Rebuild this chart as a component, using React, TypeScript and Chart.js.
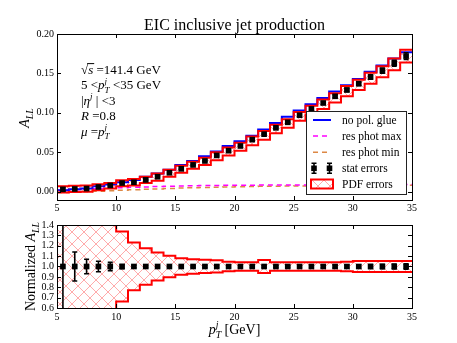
import React, { useEffect, useRef } from "react";
import { Chart, registerables } from "chart.js";
Chart.register(...registerables);

const SERIF = '"Liberation Serif", "DejaVu Serif", "Times New Roman", serif';

// ---------- data ----------
const binEdges = [5, 6, 7, 8, 9, 10, 11, 12, 13, 14, 15, 16, 17, 18, 19, 20, 21, 22, 23, 24, 25, 26, 27, 28, 29, 30, 31, 32, 33, 34, 35];
const binCenters = [5.5, 6.5, 7.5, 8.5, 9.5, 10.5, 11.5, 12.5, 13.5, 14.5, 15.5, 16.5, 17.5, 18.5, 19.5, 20.5, 21.5, 22.5, 23.5, 24.5, 25.5, 26.5, 27.5, 28.5, 29.5, 30.5, 31.5, 32.5, 33.5, 34.5];
const xTicks = [5, 10, 15, 20, 25, 30, 35];
const topYTicks = [0, 0.05, 0.1, 0.15, 0.2];
const bottomYTicks = [0.6, 0.7, 0.8, 0.9, 1.0, 1.1, 1.2, 1.3, 1.4];

const asymmetry = [0.003, 0.0035, 0.004, 0.006, 0.008, 0.011, 0.012, 0.015, 0.019, 0.024, 0.029, 0.034, 0.039, 0.046, 0.052, 0.058, 0.066, 0.073, 0.081, 0.088, 0.097, 0.105, 0.1125, 0.121, 0.129, 0.137, 0.1455, 0.1535, 0.163, 0.172];
const statErr = [0.002, 0.0006, 0.0004, 0.0004, 0.0004, 0.0003, 0.0003, 0.0003, 0.0003, 0.0003, 0.0003, 0.0004, 0.0004, 0.0005, 0.0005, 0.0006, 0.0007, 0.0008, 0.0009, 0.001, 0.0012, 0.0014, 0.0016, 0.0018, 0.002, 0.0023, 0.0028, 0.0032, 0.0037, 0.0043];
const noPolGlue = [0.002, 0.003, 0.004, 0.007, 0.009, 0.012, 0.015, 0.019, 0.023, 0.028, 0.034, 0.039, 0.045, 0.051, 0.058, 0.064, 0.071, 0.079, 0.087, 0.095, 0.103, 0.111, 0.119, 0.127, 0.135, 0.143, 0.152, 0.16, 0.169, 0.177];
const resPhotMax = [0.002, 0.0025, 0.003, 0.0037, 0.0044, 0.005, 0.0056, 0.006, 0.0065, 0.007, 0.0073, 0.0076, 0.0078, 0.008, 0.0081, 0.0082, 0.0083, 0.0084, 0.0085, 0.0085, 0.0086, 0.0086, 0.0087, 0.0087, 0.0088, 0.0088, 0.0088, 0.0089, 0.0089, 0.009];
const resPhotMin = [-0.001, -0.0005, 0.0, 0.0006, 0.0012, 0.0018, 0.0024, 0.003, 0.0036, 0.0041, 0.0046, 0.005, 0.0054, 0.0058, 0.0061, 0.0064, 0.0066, 0.0068, 0.007, 0.0072, 0.0073, 0.0074, 0.0075, 0.0076, 0.0077, 0.0078, 0.0079, 0.008, 0.008, 0.0081];
const pdfUpper = [0.007, 0.0075, 0.008, 0.0095, 0.011, 0.0145, 0.016, 0.019, 0.023, 0.028, 0.033, 0.038, 0.043, 0.05, 0.056, 0.062, 0.07, 0.077, 0.085, 0.092, 0.101, 0.109, 0.117, 0.125, 0.134, 0.142, 0.151, 0.159, 0.169, 0.18];
const pdfLower = [-0.001, -0.0005, 0.0, 0.002, 0.004, 0.007, 0.008, 0.011, 0.014, 0.019, 0.024, 0.029, 0.034, 0.04, 0.046, 0.052, 0.059, 0.066, 0.074, 0.081, 0.09, 0.098, 0.105, 0.113, 0.121, 0.129, 0.137, 0.145, 0.154, 0.164];

const normValues = [1, 1, 1, 1, 1, 1, 1, 1, 1, 1, 1, 1, 1, 1, 1, 1, 1, 1, 1, 1, 1, 1, 1, 1, 1, 1, 1, 1, 1, 1];
const normStatErr = [2.0, 0.14, 0.07, 0.05, 0.04, 0.02, 0.012, 0.01, 0.01, 0.01, 0.01, 0.01, 0.01, 0.01, 0.01, 0.01, 0.01, 0.01, 0.01, 0.01, 0.012, 0.012, 0.013, 0.014, 0.015, 0.017, 0.019, 0.021, 0.023, 0.025];
const normPdfUpper = [3, 3, 3, 3, 3, 1.337, 1.231, 1.176, 1.135, 1.103, 1.08, 1.07, 1.065, 1.06, 1.045, 1.042, 1.042, 1.062, 1.04, 1.04, 1.04, 1.04, 1.04, 1.04, 1.045, 1.052, 1.052, 1.052, 1.052, 1.052];
const normPdfLower = [-1, -1, -1, -1, -1, 0.663, 0.77, 0.824, 0.865, 0.897, 0.92, 0.93, 0.937, 0.942, 0.955, 0.958, 0.958, 0.938, 0.96, 0.96, 0.96, 0.96, 0.96, 0.96, 0.955, 0.948, 0.948, 0.948, 0.948, 0.948];

const legendLabels = ["no pol. glue", "res phot max", "res phot min", "stat errors", "PDF errors"];

// ---------- helpers ----------
function stepSeries(vals: number[]) {
  const pts = vals.map((v, i) => ({ x: binEdges[i], y: v }));
  pts.push({ x: binEdges[vals.length], y: vals[vals.length - 1] });
  return pts;
}

function makeHatch(ctx: CanvasRenderingContext2D) {
  const s = 12;
  const c = document.createElement("canvas");
  c.width = s;
  c.height = s;
  const g = c.getContext("2d")!;
  g.strokeStyle = "rgba(255,0,0,0.33)";
  g.lineWidth = 1;
  g.beginPath();
  g.moveTo(-1, -1); g.lineTo(s + 1, s + 1);
  g.moveTo(s + 1, -1); g.lineTo(-1, s + 1);
  g.stroke();
  return ctx.createPattern(c, "repeat")!;
}

type Run = { t: string; i?: boolean; sub?: boolean; sup?: boolean; bar?: boolean; hold?: boolean };
function drawRuns(ctx: CanvasRenderingContext2D, runs: Run[], x: number, y: number, size: number, draw = true) {
  let cx = x;
  let held = 0;
  for (const r of runs) {
    const fs = r.sub || r.sup ? size * 0.7 : size;
    ctx.font = `${r.i ? "italic " : ""}${fs}px ${SERIF}`;
    const w = ctx.measureText(r.t).width;
    const dy = r.sub ? size * 0.3 : r.sup ? -size * 0.42 : 0;
    if (draw) {
      ctx.fillText(r.t, cx, y + dy);
      if (r.bar) ctx.fillRect(cx - 1, y - size * 0.8, w + 2, Math.max(1, size * 0.06));
    }
    if (r.hold) {
      held = w;
    } else {
      cx += Math.max(w, held);
      held = 0;
    }
  }
  return cx - x;
}
function drawRunsRotated(ctx: CanvasRenderingContext2D, runs: Run[], x: number, cy: number, size: number) {
  const w = drawRuns(ctx, runs, 0, 0, size, false);
  ctx.save();
  ctx.translate(x, cy);
  ctx.rotate(-Math.PI / 2);
  drawRuns(ctx, runs, -w / 2, 0, size, true);
  ctx.restore();
}

function framePlugin(yTickLen = 4) {
  return {
    id: "frame",
    afterDatasetsDraw(chart: any) {
      const { ctx, chartArea: a } = chart;
      const xs = chart.scales.x;
      const ys = chart.scales.y;
      ctx.save();
      ctx.strokeStyle = "#000";
      ctx.lineWidth = 1;
      ctx.beginPath();
      for (const t of xs.ticks) {
        const px = Math.round(xs.getPixelForValue(t.value)) + 0.5;
        ctx.moveTo(px, a.bottom); ctx.lineTo(px, a.bottom - 4);
        ctx.moveTo(px, a.top); ctx.lineTo(px, a.top + 4);
      }
      for (const t of ys.ticks) {
        const py = Math.round(ys.getPixelForValue(t.value)) + 0.5;
        ctx.moveTo(a.left, py); ctx.lineTo(a.left + yTickLen, py);
        ctx.moveTo(a.right, py); ctx.lineTo(a.right - yTickLen, py);
      }
      ctx.stroke();
      ctx.strokeRect(Math.round(a.left) + 0.5, Math.round(a.top) + 0.5, Math.round(a.right - a.left), Math.round(a.bottom - a.top));
      ctx.restore();
    },
  };
}

function errorBarPlugin(vals: number[], errs: number[]) {
  return {
    id: "errbars",
    afterDatasetsDraw(chart: any) {
      const { ctx, chartArea: a } = chart;
      const xs = chart.scales.x;
      const ys = chart.scales.y;
      ctx.save();
      ctx.beginPath();
      ctx.rect(a.left, a.top, a.right - a.left, a.bottom - a.top);
      ctx.clip();
      ctx.strokeStyle = "#000";
      ctx.lineWidth = 1.6;
      ctx.beginPath();
      binCenters.forEach((x, i) => {
        const px = xs.getPixelForValue(x);
        const y1 = ys.getPixelForValue(vals[i] + errs[i]);
        const y2 = ys.getPixelForValue(vals[i] - errs[i]);
        ctx.moveTo(px, y1); ctx.lineTo(px, y2);
        ctx.moveTo(px - 2.5, y1); ctx.lineTo(px + 2.5, y1);
        ctx.moveTo(px - 2.5, y2); ctx.lineTo(px + 2.5, y2);
      });
      ctx.stroke();
      ctx.restore();
    },
  };
}

function axisCommon(ticks: number[], fmt: (v: number) => string, isX: boolean, size: number, pad: number) {
  return {
    type: "linear" as const,
    grid: { display: false, drawTicks: false },
    border: { display: false },
    afterBuildTicks: (s: any) => {
      s.ticks = ticks.map((v) => ({ value: v }));
    },
    afterFit: (s: any) => {
      if (isX) s.height = size;
      else s.width = size;
      s.paddingLeft = 0;
      s.paddingRight = 0;
      s.paddingTop = 0;
      s.paddingBottom = 0;
    },
    ticks: {
      font: { family: SERIF, size: 10 },
      color: "#000",
      padding: pad,
      autoSkip: false,
      maxRotation: 0,
      minRotation: 0,
      callback: (v: any) => fmt(Number(v)),
    },
  };
}

export default function App() {
  const topRef = useRef<HTMLCanvasElement>(null);
  const botRef = useRef<HTMLCanvasElement>(null);

  useEffect(() => {
    const topCtx = topRef.current!.getContext("2d")!;
    const botCtx = botRef.current!.getContext("2d")!;
    const hatchTop = makeHatch(topCtx);
    const hatchBot = makeHatch(botCtx);

    const textTop = {
      id: "textTop",
      afterDraw(chart: any) {
        const ctx: CanvasRenderingContext2D = chart.ctx;
        ctx.save();
        ctx.fillStyle = "#000";
        ctx.textBaseline = "alphabetic";
        // title
        ctx.font = `16px ${SERIF}`;
        ctx.textAlign = "center";
        ctx.fillText("EIC inclusive jet production", (chart.chartArea.left + chart.chartArea.right) / 2, 30);
        ctx.textAlign = "left";
        // annotations
        const lines: Run[][] = [
          [{ t: "√" }, { t: "s", i: true, bar: true }, { t: " =141.4 GeV" }],
          [{ t: "5 <" }, { t: "p", i: true }, { t: "T", i: true, sub: true, hold: true }, { t: "j", i: true, sup: true }, { t: " <35 GeV" }],
          [{ t: "|" }, { t: "η", i: true }, { t: "j", i: true, sup: true }, { t: " | <3" }],
          [{ t: "R", i: true }, { t: " =0.8" }],
          [{ t: "μ", i: true }, { t: " =" }, { t: "p", i: true }, { t: "T", i: true, sub: true, hold: true }, { t: "j", i: true, sup: true }],
        ];
        lines.forEach((l, k) => drawRuns(ctx, l, 81, 73.5 + k * 15.5, 13));
        // y label
        drawRunsRotated(ctx, [{ t: "A", i: true }, { t: "LL", i: true, sub: true }], 29, 118, 14);

        // legend
        const lx = 306, ly = 111, lw = 100, lh = 83;
        ctx.fillStyle = "#fff";
        ctx.fillRect(lx, ly, lw, lh);
        ctx.strokeStyle = "#222";
        ctx.lineWidth = 1;
        ctx.strokeRect(lx + 0.5, ly + 0.5, lw, lh);
        const rows = [120, 136, 152.3, 168.3, 184];
        ctx.strokeStyle = "#0000ff";
        ctx.lineWidth = 2;
        ctx.beginPath(); ctx.moveTo(313, rows[0]); ctx.lineTo(331, rows[0]); ctx.stroke();
        ctx.setLineDash([5, 4]);
        ctx.lineWidth = 1.5;
        ctx.strokeStyle = "#ff00ff";
        ctx.beginPath(); ctx.moveTo(313, rows[1]); ctx.lineTo(331, rows[1]); ctx.stroke();
        ctx.strokeStyle = "#dd8844";
        ctx.beginPath(); ctx.moveTo(313, rows[2]); ctx.lineTo(331, rows[2]); ctx.stroke();
        ctx.setLineDash([]);
        ctx.strokeStyle = "#000";
        ctx.fillStyle = "#000";
        ctx.lineWidth = 1.6;
        [314, 329.5].forEach((mx) => {
          ctx.beginPath();
          ctx.moveTo(mx, rows[3] - 5); ctx.lineTo(mx, rows[3] + 5);
          ctx.moveTo(mx - 2.5, rows[3] - 5); ctx.lineTo(mx + 2.5, rows[3] - 5);
          ctx.moveTo(mx - 2.5, rows[3] + 5); ctx.lineTo(mx + 2.5, rows[3] + 5);
          ctx.stroke();
          ctx.fillRect(mx - 2.8, rows[3] - 2.8, 5.6, 5.6);
        });
        ctx.fillStyle = hatchTop;
        ctx.fillRect(311, 179.5, 22, 9);
        ctx.strokeStyle = "#ff0000";
        ctx.lineWidth = 2;
        ctx.strokeRect(311, 179.5, 22, 9);
        ctx.fillStyle = "#000";
        ctx.font = `11.5px ${SERIF}`;
        legendLabels.forEach((t, k) => ctx.fillText(t, 342, rows[k] + 4));
        ctx.restore();
      },
    };

    const textBot = {
      id: "textBot",
      afterDraw(chart: any) {
        const ctx: CanvasRenderingContext2D = chart.ctx;
        ctx.save();
        ctx.fillStyle = "#000";
        ctx.textAlign = "left";
        drawRunsRotated(ctx, [{ t: "Normalized " }, { t: "A", i: true }, { t: "LL", i: true, sub: true }], 35, 46.5, 14);
        const runs: Run[] = [{ t: "p", i: true }, { t: "T", i: true, sub: true, hold: true }, { t: "j", i: true, sup: true }, { t: " [GeV]" }];
        const w = drawRuns(ctx, runs, 0, 0, 14, false);
        drawRuns(ctx, runs, (chart.chartArea.left + chart.chartArea.right) / 2 - w / 2, 113.5, 14);
        ctx.restore();
      },
    };

    const lineDs = (data: any, color: string, extra: any = {}) => ({
      data,
      stepped: true,
      borderColor: color,
      borderWidth: 2,
      pointRadius: 0,
      pointHoverRadius: 0,
      fill: false,
      ...extra,
    });

    const topChart = new Chart(topRef.current!, {
      type: "line",
      data: {
        datasets: [
          {
            label: "stat errors",
            data: binCenters.map((x, i) => ({ x, y: asymmetry[i] })),
            showLine: false,
            pointStyle: "rect",
            pointRadius: 4,
            pointHoverRadius: 4,
            pointBackgroundColor: "#000",
            pointBorderColor: "#000",
            pointBorderWidth: 0,
          } as any,
          lineDs(stepSeries(pdfUpper), "#ff0000"),
          lineDs(stepSeries(pdfLower), "#ff0000", { fill: 1, backgroundColor: hatchTop }),
          lineDs(stepSeries(noPolGlue), "#0000ff"),
          lineDs(stepSeries(resPhotMax), "#ff00ff", { borderDash: [5, 4], borderWidth: 1.5 }),
          lineDs(stepSeries(resPhotMin), "#dd8844", { borderDash: [5, 4], borderWidth: 1.5 }),
        ],
      },
      options: {
        responsive: false,
        maintainAspectRatio: false,
        animation: false,
        events: [],
        layout: { padding: { left: 0, right: 45, top: 34, bottom: 0 } },
        plugins: { legend: { display: false }, tooltip: { enabled: false }, title: { display: false } },
        scales: {
          x: { ...axisCommon(xTicks, (v) => String(v), true, 20, 2), min: 5, max: 35 },
          y: { ...axisCommon(topYTicks, (v) => v.toFixed(2), false, 57, 3), min: -0.0105, max: 0.2 },
        },
      } as any,
      plugins: [errorBarPlugin(asymmetry, statErr), framePlugin(), textTop],
    });

    const botChart = new Chart(botRef.current!, {
      type: "line",
      data: {
        datasets: [
          {
            label: "norm",
            data: binCenters.map((x, i) => ({ x, y: normValues[i] })),
            showLine: false,
            pointStyle: "rect",
            pointRadius: 4,
            pointHoverRadius: 4,
            pointBackgroundColor: "#000",
            pointBorderColor: "#000",
            pointBorderWidth: 0,
          } as any,
          lineDs(stepSeries(normPdfUpper), "#ff0000"),
          lineDs(stepSeries(normPdfLower), "#ff0000", { fill: 1, backgroundColor: hatchBot }),
        ],
      },
      options: {
        responsive: false,
        maintainAspectRatio: false,
        animation: false,
        events: [],
        layout: { padding: { left: 0, right: 45, top: 5, bottom: 0 } },
        plugins: { legend: { display: false }, tooltip: { enabled: false }, title: { display: false } },
        scales: {
          x: { ...axisCommon(xTicks, (v) => String(v), true, 35, 3), min: 5, max: 35 },
          y: { ...axisCommon(bottomYTicks, (v) => v.toFixed(1), false, 57, 3), min: 0.6, max: 1.4 },
        },
      } as any,
      plugins: [errorBarPlugin(normValues, normStatErr), framePlugin(), textBot],
    });

    return () => {
      topChart.destroy();
      botChart.destroy();
    };
  }, []);

  return (
    <div style={{ position: "fixed", left: 0, top: 0, width: 457, height: 343, background: "#fff" }}>
      <canvas ref={topRef} width={457} height={220} style={{ position: "absolute", left: 0, top: 0, width: 457, height: 220, display: "block" }} />
      <canvas ref={botRef} width={457} height={123} style={{ position: "absolute", left: 0, top: 220, width: 457, height: 123, display: "block" }} />
    </div>
  );
}
